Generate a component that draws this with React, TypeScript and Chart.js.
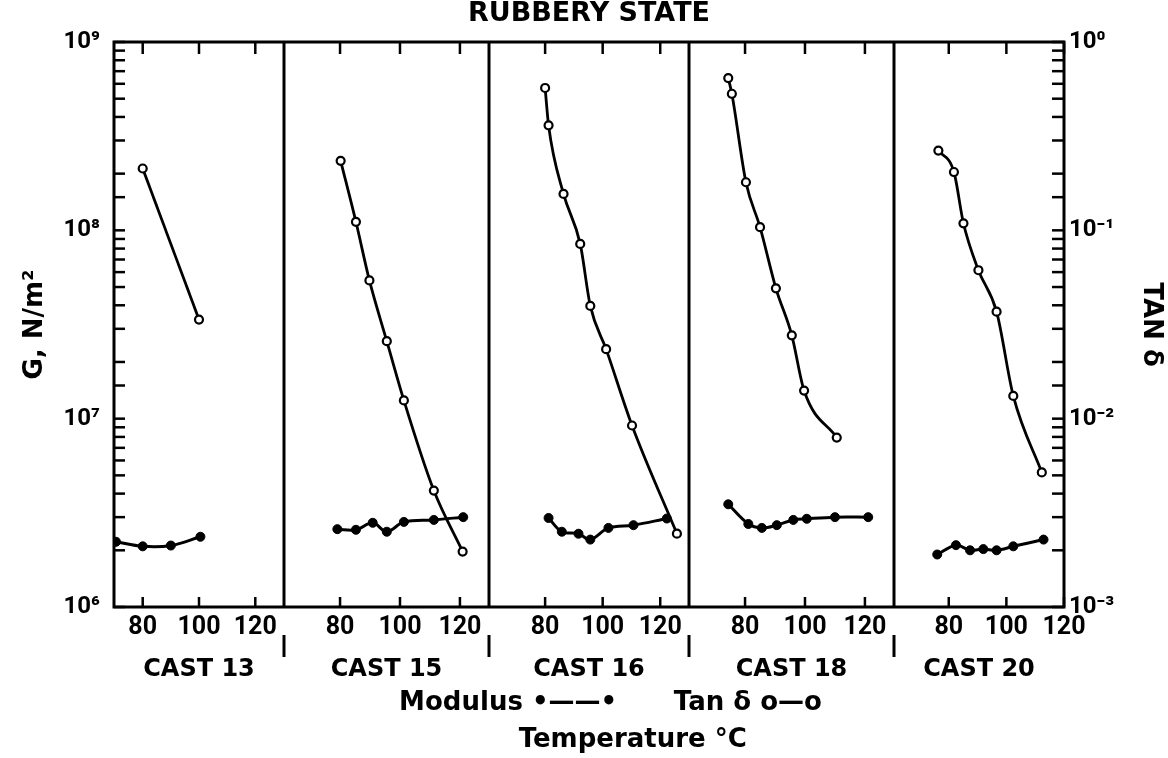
import React, { useEffect, useRef } from 'react';
import Chart from 'chart.js/auto';

// ---------- texts ----------
const chartTitle = 'RUBBERY STATE';
const modulusAxisTitle = 'G, N/m²';
const tanAxisTitle = 'TAN δ';
const temperatureCaption = 'Temperature °C';
const legendLabels = ['Modulus •——•', 'Tan δ o—o'];
const castLabels = ['CAST 13', 'CAST 15', 'CAST 16', 'CAST 18', 'CAST 20'];
const temperatureTicks = [80, 100, 120];

// ---------- data ----------
const cast13ModulusTemp = [70.5, 80, 90, 100.5];
const cast13Modulus = [2.22e6, 2.1e6, 2.12e6, 2.36e6];
const cast13TanTemp = [80, 100];
const cast13Tan = [0.213, 0.0336];

const cast15ModulusTemp = [79.1, 85.3, 90.9, 95.6, 101.3, 111.3, 121.1];
const cast15Modulus = [2.59e6, 2.57e6, 2.8e6, 2.51e6, 2.83e6, 2.9e6, 3.0e6];
const cast15TanTemp = [80.2, 85.3, 89.8, 95.6, 101.3, 111.3, 120.9];
const cast15Tan = [0.234, 0.111, 0.0542, 0.0258, 0.0125, 0.00415, 0.00197];

const cast16ModulusTemp = [81.2, 85.8, 91.6, 95.7, 102, 110.7, 122.3];
const cast16Modulus = [2.97e6, 2.51e6, 2.45e6, 2.28e6, 2.63e6, 2.72e6, 2.95e6];
const cast16TanTemp = [80, 81.2, 86.4, 92.2, 95.7, 101.2, 110.2, 125.8];
const cast16Tan = [0.57, 0.361, 0.156, 0.0847, 0.0397, 0.0234, 0.0092, 0.00245];

const cast18ModulusTemp = [74.4, 81.1, 85.6, 90.6, 96.1, 100.6, 110, 121.1];
const cast18Modulus = [3.51e6, 2.76e6, 2.63e6, 2.72e6, 2.9e6, 2.94e6, 3.0e6, 3.0e6];
const cast18TanTemp = [74.4, 75.6, 80.3, 85, 90.3, 95.6, 99.7, 110.6];
const cast18Tan = [0.643, 0.531, 0.18, 0.104, 0.0492, 0.0277, 0.0141, 0.00794];

const cast20ModulusTemp = [76, 82.5, 87.4, 92, 96.6, 102.4, 112.9];
const cast20Modulus = [1.9e6, 2.13e6, 2.0e6, 2.03e6, 2.0e6, 2.1e6, 2.28e6];
const cast20TanTemp = [76.4, 81.8, 85.1, 90.3, 96.6, 102.4, 112.3];
const cast20Tan = [0.265, 0.204, 0.109, 0.0614, 0.037, 0.0132, 0.00518];

// temperature range of each panel's axis
const panelTempMin = [69.8, 61.3, 60.5, 61.3, 61];
const panelTempMax = [130.2, 129.7, 130, 129.7, 120];

// ---------- layout ----------
const panelWeights = [170, 205, 200, 205, 170];
const W = 1168;
const H = 768;
const SHIFT = 10;

const casts = [
  [cast13ModulusTemp, cast13Modulus, cast13TanTemp, cast13Tan],
  [cast15ModulusTemp, cast15Modulus, cast15TanTemp, cast15Tan],
  [cast16ModulusTemp, cast16Modulus, cast16TanTemp, cast16Tan],
  [cast18ModulusTemp, cast18Modulus, cast18TanTemp, cast18Tan],
  [cast20ModulusTemp, cast20Modulus, cast20TanTemp, cast20Tan],
];

const SUP: Record<string, string> = {
  '0': '⁰', '1': '¹', '2': '²', '3': '³', '4': '⁴', '5': '⁵', '6': '⁶', '7': '⁷', '8': '⁸', '9': '⁹', '-': '⁻',
};
function decadeLabel(v: number): string {
  const e = Math.round(Math.log10(v));
  if (Math.abs(v / Math.pow(10, e) - 1) > 1e-6) return '';
  return '10' + String(e).split('').map((c) => SUP[c] || c).join('');
}

const zip = (xs: number[], ys: number[]) => xs.map((x, i) => ({ x, y: ys[i] }));

const WORD_FONT = '"DejaVu Sans", sans-serif';
const NUM_FONT = 'Roboto, "DejaVu Sans", sans-serif';

const decorPlugin = {
  id: 'panelDecor',
  afterDatasetsDraw(chart: any) {
    const { ctx, chartArea: a } = chart;
    const line = (x1: number, y1: number, x2: number, y2: number) => {
      ctx.beginPath();
      ctx.moveTo(x1, y1);
      ctx.lineTo(x2, y2);
      ctx.stroke();
    };
    ctx.save();
    ctx.strokeStyle = '#000';
    ctx.lineCap = 'butt';
    ctx.lineWidth = 3;
    ctx.strokeRect(a.left, a.top, a.right - a.left, a.bottom - a.top);
    castLabels.forEach((_, i) => {
      const s = chart.scales['x' + i];
      ctx.lineWidth = 3;
      if (i < castLabels.length - 1) {
        line(s.right, a.top, s.right, a.bottom);
        line(s.right, a.bottom + 28, s.right, a.bottom + 50);
      }
      ctx.lineWidth = 2.5;
      s.ticks.forEach((t: any) => {
        const px = s.getPixelForValue(t.value);
        line(px, a.bottom, px, a.bottom - 10);
        line(px, a.top, px, a.top + 12);
      });
    });
    ctx.lineWidth = 2.5;
    const yl = chart.scales.yG;
    yl.ticks.forEach((t: any) => {
      const py = yl.getPixelForValue(t.value);
      line(a.left, py, a.left + 11, py);
    });
    const yr = chart.scales.yT;
    yr.ticks.forEach((t: any) => {
      const py = yr.getPixelForValue(t.value);
      line(a.right, py, a.right - 12, py);
    });
    ctx.fillStyle = '#000';
    ctx.font = 'bold 26px ' + WORD_FONT;
    ctx.textAlign = 'center';
    ctx.textBaseline = 'middle';
    ctx.fillText(temperatureCaption, a.left + (a.right - a.left) * 0.546, a.bottom + 133);
    ctx.restore();
  },
};

export default function App() {
  const ref = useRef<HTMLCanvasElement | null>(null);
  useEffect(() => {
    if (!ref.current) return;
    const datasets: any[] = [];
    casts.forEach(([mT, m, tT, t], i) => {
      datasets.push({
        label: castLabels[i] + ' modulus',
        data: zip(mT, m),
        xAxisID: 'x' + i,
        yAxisID: 'yG',
        borderColor: '#000',
        backgroundColor: '#000',
        borderWidth: 3,
        pointRadius: 4.5,
        pointBackgroundColor: '#000',
        pointBorderColor: '#000',
        pointBorderWidth: 1,
        tension: 0.35,
        fill: false,
      });
      datasets.push({
        label: castLabels[i] + ' tan δ',
        data: zip(tT, t),
        xAxisID: 'x' + i,
        yAxisID: 'yT',
        borderColor: '#000',
        backgroundColor: '#fff',
        borderWidth: 2.8,
        pointRadius: 4,
        pointBackgroundColor: '#fff',
        pointBorderColor: '#000',
        pointBorderWidth: 2.2,
        cubicInterpolationMode: 'monotone',
        fill: false,
      });
    });

    const scales: any = {};
    castLabels.forEach((label, i) => {
      scales['x' + i] = {
        type: 'linear',
        position: 'bottom',
        stack: 'panels',
        stackWeight: panelWeights[i],
        min: panelTempMin[i],
        max: panelTempMax[i],
        offset: false,
        afterBuildTicks: (s: any) => {
          s.ticks = temperatureTicks
            .filter((v) => v >= s.min - 1e-9 && v <= s.max + 1e-9)
            .map((v) => ({ value: v }));
        },
        grid: { display: false, drawTicks: false },
        border: { display: false },
        ticks: {
          autoSkip: false,
          maxRotation: 0,
          padding: 6,
          color: '#000',
          font: { family: NUM_FONT, size: 25, weight: 'bold' },
          callback: (v: number) => String(v),
        },
        title: {
          display: true,
          text: label,
          color: '#000',
          font: { family: WORD_FONT, size: 24, weight: 'bold' },
          padding: { top: 6.6, bottom: 2 },
        },
      };
    });
    scales.yG = {
      type: 'logarithmic',
      position: 'left',
      min: 1e6,
      max: 1e9,
      afterFit: (s: any) => {
        s.width = 114;
      },
      grid: { display: false, drawTicks: false },
      border: { display: false },
      ticks: {
        autoSkip: false,
        padding: 14,
        color: '#000',
        font: { family: NUM_FONT, size: 24, weight: 'bold' },
        callback: (v: number) => decadeLabel(v),
      },
      title: {
        display: true,
        text: modulusAxisTitle,
        color: '#000',
        font: { family: WORD_FONT, size: 26, weight: 'bold' },
        padding: { top: 19.4, bottom: 0 },
      },
    };
    scales.yT = {
      type: 'logarithmic',
      position: 'right',
      min: 1e-3,
      max: 1,
      afterFit: (s: any) => {
        s.width = 104;
      },
      grid: { display: false, drawTicks: false },
      border: { display: false },
      ticks: {
        autoSkip: false,
        padding: 5,
        color: '#000',
        font: { family: NUM_FONT, size: 24, weight: 'bold' },
        callback: (v: number) => decadeLabel(v),
      },
      title: {
        display: true,
        text: tanAxisTitle,
        color: '#000',
        font: { family: WORD_FONT, size: 26, weight: 'bold' },
        padding: { top: 1.4, bottom: 0 },
      },
    };

    const chart = new Chart(ref.current, {
      type: 'line',
      data: { datasets },
      options: {
        responsive: false,
        animation: false,
        devicePixelRatio: 1,
        layout: { padding: { top: 0, left: 0, right: 0, bottom: 32 } },
        scales,
        plugins: {
          title: {
            display: true,
            text: chartTitle,
            fullSize: false,
            color: '#000',
            font: { family: WORD_FONT, size: 27, weight: 'bold' },
            padding: { top: 7.5, bottom: 12.1 },
          },
          legend: {
            display: true,
            position: 'bottom',
            onClick: () => {},
            labels: {
              boxWidth: 40,
              padding: 3.6,
              color: '#000',
              font: { family: WORD_FONT, size: 26, weight: 'bold' },
              generateLabels: () =>
                legendLabels.map((text) => ({
                  text,
                  fillStyle: 'rgba(0,0,0,0)',
                  strokeStyle: 'rgba(0,0,0,0)',
                  lineWidth: 0,
                  hidden: false,
                  fontColor: '#000',
                })),
            },
          },
          tooltip: { enabled: false },
        },
      } as any,
      plugins: [decorPlugin],
    });
    return () => chart.destroy();
  }, []);

  return (
    <div
      style={{
        position: 'fixed',
        left: 0,
        top: 0,
        width: W,
        height: 758,
        overflow: 'hidden',
        background: '#fff',
      }}
    >
      <canvas
        ref={ref}
        width={W}
        height={H}
        style={{ position: 'absolute', left: 0, top: -SHIFT, width: W, height: H }}
      />
    </div>
  );
}
